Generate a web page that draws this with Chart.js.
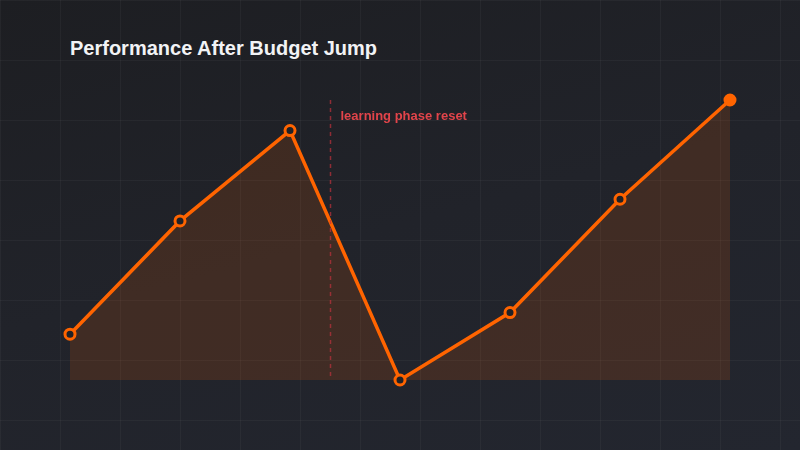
<!DOCTYPE html>
<html>
<head>
<meta charset="utf-8">
<script src="https://cdn.jsdelivr.net/npm/chart.js@4.4.1/dist/chart.umd.min.js"></script>
<style>
  html, body { margin: 0; padding: 0; }
  body {
    width: 800px; height: 450px; overflow: hidden; position: relative;
    background-color: #202228;
    background-image:
      linear-gradient(rgba(255,255,255,0.035) 1px, transparent 1px),
      linear-gradient(90deg, rgba(255,255,255,0.035) 1px, transparent 1px),
      linear-gradient(165deg, #1d1e22 0%, #21232a 50%, #23262f 100%);
    background-size: 60px 60px, 60px 60px, 100% 100%;
    background-position: 0 0, 0 0, 0 0;
  }
  #title {
    position: absolute; left: 70px; top: 35px;
    font-family: "Liberation Sans", Arial, sans-serif;
    font-weight: bold; font-size: 20px; color: #f2f3f5;
    line-height: 26px; margin: 0;
  }
  #wrap { position: absolute; left: 0; top: 0; width: 800px; height: 450px; }
</style>
</head>
<body>
<div id="title">Performance After Budget Jump</div>
<div id="wrap"><canvas id="c" width="800" height="450"></canvas></div>
<script>
const categories = ["Day 1", "Day 2", "Day 3", "Day 4", "Day 5", "Day 6", "Day 7"];
const performance = [3.16, 4.05, 4.76, 2.80, 3.33, 4.22, 5.00];
const resetAt = 2.36;
const resetLabel = "learning phase reset";

const lineColor = "#ff6400";

const resetPlugin = {
  id: "resetLine",
  afterDatasetsDraw(chart) {
    const { ctx, chartArea, scales } = chart;
    const x = Math.round(scales.x.getPixelForValue(resetAt)) + 0.5;
    ctx.save();
    ctx.beginPath();
    ctx.setLineDash([4, 4]);
    ctx.lineWidth = 1.5;
    ctx.strokeStyle = "rgba(190,50,60,0.7)";
    ctx.moveTo(x, chartArea.top);
    ctx.lineTo(x, chartArea.bottom);
    ctx.stroke();
    ctx.setLineDash([]);
    ctx.fillStyle = "#e2444a";
    ctx.font = "bold 13px 'Liberation Sans', Arial, sans-serif";
    ctx.textBaseline = "middle";
    ctx.textAlign = "left";
    ctx.fillText(resetLabel, x + 10, chartArea.top + 16);
    ctx.restore();
  }
};

const pointFill = performance.map((v, i) => i === performance.length - 1 ? lineColor : "#202228");

new Chart(document.getElementById("c"), {
  type: "line",
  data: {
    labels: categories,
    datasets: [{
      data: performance,
      borderColor: lineColor,
      borderWidth: 3.5,
      backgroundColor: "rgba(255,100,0,0.14)",
      fill: "start",
      tension: 0,
      pointRadius: 5,
      pointBorderWidth: 3,
      pointBorderColor: lineColor,
      pointBackgroundColor: pointFill,
      clip: false
    }]
  },
  options: {
    responsive: false,
    animation: false,
    layout: { padding: { left: 70, right: 70, top: 100, bottom: 70 } },
    plugins: { legend: { display: false }, tooltip: { enabled: false }, title: { display: false } },
    scales: {
      x: { display: false, offset: false },
      y: { display: false, bounds: "data", grace: 0 }
    }
  },
  plugins: [resetPlugin]
});
</script>
</body>
</html>
